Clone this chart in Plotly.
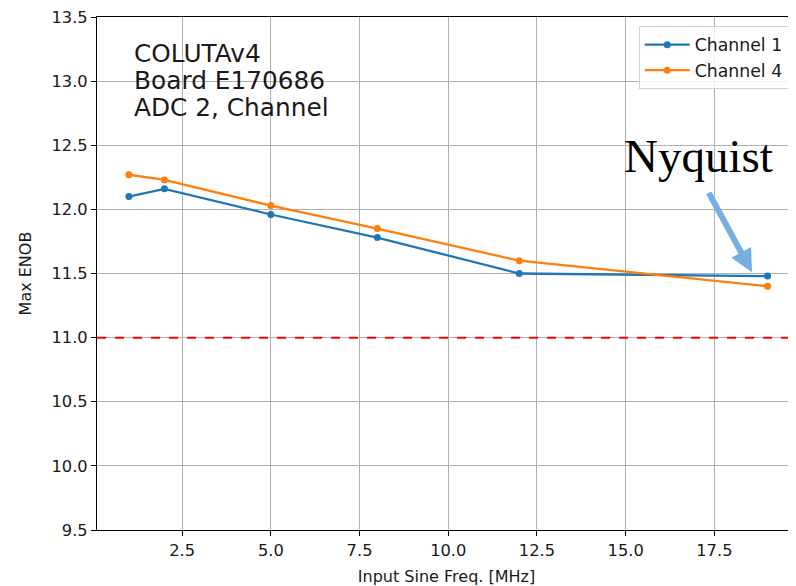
import plotly.graph_objects as go

freq = [1, 2, 5, 8, 12, 19]
ch1 = [12.10, 12.16, 11.96, 11.78, 11.50, 11.48]
ch4 = [12.27, 12.23, 12.03, 11.85, 11.60, 11.40]
series_names = ["Channel 1", "Channel 4"]
threshold = 11.0
xticks = [2.5, 5.0, 7.5, 10.0, 12.5, 15.0, 17.5]
yticks = [9.5, 10.0, 10.5, 11.0, 11.5, 12.0, 12.5, 13.0, 13.5]
info_lines = ["COLUTAv4", "Board E170686", "ADC 2, Channel"]

FONT = "DejaVu Sans"
fig = go.Figure()
for name, vals, col in [(series_names[0], ch1, "#1f77b4"), (series_names[1], ch4, "#ff7f0e")]:
    fig.add_trace(go.Scatter(x=freq, y=vals, name=name, mode="lines+markers",
                             line=dict(color=col, width=2.3),
                             marker=dict(color=col, size=7)))

fig.add_shape(type="line", xref="paper", x0=0, x1=1, yref="y", y0=threshold, y1=threshold,
              line=dict(color="red", width=2, dash="dash"), layer="above")

for i, t in enumerate(info_lines):
    fig.add_annotation(x=1.09, y=13.212 - i * 0.2105, xref="x", yref="y", text=t,
                       showarrow=False, xanchor="left", yanchor="middle",
                       font=dict(family=FONT, size=24.8, color="#1a1a1a"))

fig.add_annotation(x=17.04, y=12.42, xref="x", yref="y", text="Nyquist", showarrow=False,
                   xanchor="center", yanchor="middle",
                   font=dict(family="Liberation Serif", size=47, color="black"))
fig.add_annotation(x=18.56, y=11.51, xref="x", yref="y", ax=17.32, ay=12.14,
                   axref="x", ayref="y", text="", showarrow=True, arrowhead=2,
                   arrowsize=0.75, arrowwidth=6, arrowcolor="#75aee0", standoff=0)

axis_common = dict(showline=True, linecolor="black", linewidth=1, mirror=True,
                   ticks="outside", ticklen=5, tickcolor="black", tickwidth=1,
                   showgrid=True, gridcolor="#b0b0b0", gridwidth=1, zeroline=False,
                   automargin=False, ticklabeloverflow="allow",
                   tickfont=dict(family=FONT, size=16.3, color="#1a1a1a"))
fig.update_xaxes(range=[0.1, 19.8], tickvals=xticks, tickformat=".1f",
                 title=dict(text="Input Sine Freq. [MHz]", standoff=17,
                            font=dict(family=FONT, size=16, color="#1a1a1a")),
                 **axis_common)
fig.update_yaxes(range=[9.5, 13.5], tickvals=yticks, tickformat=".1f",
                 title=dict(text="Max ENOB", standoff=15,
                            font=dict(family=FONT, size=16, color="#1a1a1a")),
                 **axis_common)
# page body has an 8px default margin, so the figure is 8px smaller and margins reduced
fig.update_layout(width=788, height=578, margin=dict(l=89, r=0, t=9, b=56, autoexpand=False),
                  plot_bgcolor="white", paper_bgcolor="white",
                  legend=dict(x=0.775, y=0.9825, xanchor="left", yanchor="top",
                              itemwidth=45,
                              bgcolor="rgba(255,255,255,0.8)", bordercolor="#d0d0d0",
                              borderwidth=1, font=dict(family=FONT, size=17.3, color="#1a1a1a")),
                  showlegend=True)
fig.write_html("out.html")
